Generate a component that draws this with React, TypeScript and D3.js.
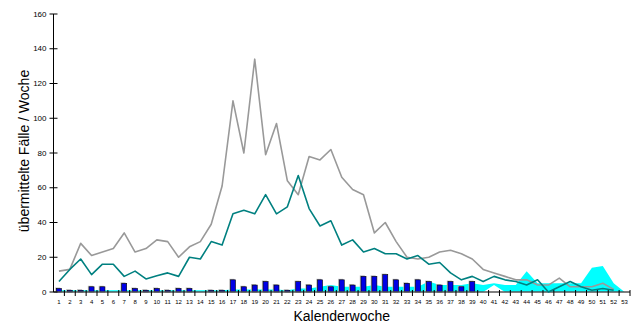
import * as d3 from 'd3';
import React from 'react';

// Kalenderwochen 1..53
const weeks = d3.range(1, 54);

// übermittelte Fälle, Vorjahr (grau)
const grayLine = [12, 13, 28, 21, 23, 25, 34, 23, 25, 30, 29, 20, 26, 29, 39, 61, 110, 80, 134, 79, 97, 64, 56, 78, 76, 82, 66, 59, 56, 34, 40, 29, 20, 19, 20, 23, 24, 22, 19, 13, 11, 9, 7, 7, 4, 4, 8, 3, 3, 3, 5, 1.5];
// aktuelle Saison (petrol)
const tealLine = [6, 13, 19, 10, 16, 16, 9, 12, 7.5, 9.4, 11, 9, 20, 19, 29, 27, 45, 47, 45, 56, 45, 49, 67, 48, 38, 41, 27, 30, 23, 25, 22, 22, 19, 21, 16, 17, 11, 7, 9, 6, 9, 7, 6, 4, 7, 0, 3, 6, 3, 1, 2, 1];
// Balken (blau)
const bars = [2, 1, 1, 3, 3, 0, 5, 2, 1, 2, 1, 2, 2, 0, 1, 1, 7, 3, 4, 6, 4, 1, 6, 4, 7, 3, 7, 4, 9, 9, 10, 7, 5, 7, 6, 4, 6, 3, 6, 0, 0, 0, 0, 0, 0, 0, 0, 0, 0, 0, 0, 0, 0];
// Flächen: Maximum (cyan) und Minimum (weiß)
const cyanMax = [1, 1, 1, 1, 1, 1, 1, 1, 1, 1, 1, 1, 1, 1, 1, 1, 1.5, 1.5, 1.5, 1.5, 1.5, 1, 2, 2, 3, 4, 3, 3, 3, 4, 3, 3, 3, 3, 6, 4, 4, 4, 5, 4, 5, 4, 4, 12, 5, 5, 5, 5, 5, 14, 15, 5, 0];
const whiteMin = [0, 0, 0, 0, 0, 0, 0, 0, 0, 0, 0, 0, 0, 0, 0, 0, 0, 0, 0, 0, 0, 0, 0, 0, 0, 0, 0, 0, 0, 0, 0, 0, 0, 0, 0, 0, 0, 0, 0, 0, 4, 0, 0, 0, 0, 0, 0, 0, 0, 0, 0, 0, 0];

const yTicks = [0, 20, 40, 60, 80, 100, 120, 140, 160];

const width = 635;
const height = 324;
const left = 53.5;
const right = 630;
const top = 14;
const bottom = 292;
const font = "'Liberation Sans', Arial, Helvetica, sans-serif";

export default function App() {
  const x = d3.scaleBand<number>().domain(weeks).range([left, right]).paddingInner(0);
  const y = d3.scaleLinear().domain([0, 160]).range([bottom, top]);
  const bw = x.bandwidth();
  const cx = (w: number) => (x(w) ?? 0) + bw / 2;

  const area = d3
    .area<number>()
    .x((d, i) => cx(weeks[i]))
    .y0(bottom)
    .y1((d) => y(d));
  const line = d3
    .line<number>()
    .x((d, i) => cx(weeks[i]))
    .y((d) => y(d));

  const barW = 5;

  return (
    <svg width={width} height={height} style={{ position: 'absolute', left: 0, top: 0 }}>
      <path d={area(cyanMax) ?? ''} fill="#00ffff" />
      <path d={area(whiteMin) ?? ''} fill="#ffffff" />
      <g>
        {bars.map((v, i) =>
          v > 0 ? (
            <g key={i}>
              <rect x={cx(weeks[i]) - barW / 2 - 1.2} y={y(v) - 1} width={barW} height={bottom - y(v) + 1} fill="#b8b8b8" />
              <rect x={cx(weeks[i]) - barW / 2} y={y(v)} width={barW} height={bottom - y(v)} fill="#0000e6" stroke="#000" strokeWidth={0.6} />
            </g>
          ) : null
        )}
      </g>
      <line x1={left} x2={right} y1={bottom} y2={bottom} stroke="#555" strokeWidth={1.6} />
      <path d={line(grayLine) ?? ''} fill="none" stroke="#999999" strokeWidth={1.6} strokeLinejoin="round" />
      <path d={line(tealLine) ?? ''} fill="none" stroke="#008080" strokeWidth={1.6} strokeLinejoin="round" />
      {/* y axis */}
      <line x1={left} x2={left} y1={top} y2={bottom} stroke="#000" strokeWidth={1} />
      {yTicks.map((t) => (
        <g key={t} transform={`translate(0,${y(t)})`}>
          <line x1={left - 4} x2={left + 4} stroke="#000" strokeWidth={1} />
          <text x={left - 7} dy="0.33em" textAnchor="end" fontSize={8} fontFamily={font} fill="#000">
            {t}
          </text>
        </g>
      ))}
      {/* x axis */}
      {weeks.map((w) => (
        <g key={w}>
          <line x1={(x(w) ?? 0) + bw} x2={(x(w) ?? 0) + bw} y1={bottom - 2} y2={bottom + 4} stroke="#000" strokeWidth={1} />
          <text x={cx(w)} y={bottom + 12} textAnchor="middle" fontSize={6} fontFamily={font} fill="#000">
            {w}
          </text>
        </g>
      ))}
      <text x={(left + right) / 2} y={321} textAnchor="middle" fontSize={14} fontFamily={font} fill="#000">
        Kalenderwoche
      </text>
      <text
        transform={`translate(29,${(top + bottom) / 2 - 2}) rotate(-90)`}
        textAnchor="middle"
        fontSize={14}
        fontFamily={font}
        fill="#000"
      >
        übermittelte Fälle / Woche
      </text>
    </svg>
  );
}
